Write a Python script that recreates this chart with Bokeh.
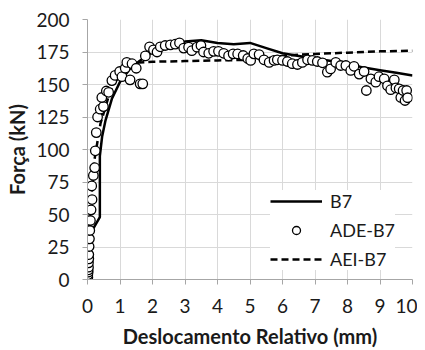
from bokeh.plotting import figure
from bokeh.models import Legend, LegendItem, FixedTicker, Range1d
from bokeh.embed import file_html
from bokeh.resources import INLINE

# B7 (solid line)
b7_x = [0, 0.05, 0.15, 0.38, 0.38, 0.45, 0.55, 0.75, 1.0, 1.3, 1.6, 2.0, 2.5, 3.0, 3.5, 4.0, 4.5, 5.0, 5.5, 6.0, 6.5, 7.0, 7.5, 8.0, 8.5, 9.0, 9.5, 10.0]
b7_y = [0, 20, 38, 48, 95, 110, 122, 139, 152, 162, 168, 175, 180, 183, 184, 182, 181, 182, 178, 174, 172, 170, 168, 166, 163, 161, 159, 157]

# AEI-B7 (dashed line)
aei_x = [0, 0.05, 0.1, 0.2, 0.4, 0.7, 1.0, 1.3, 1.6, 2.0, 3.0, 4.0, 5.0, 5.5, 6.0, 6.5, 7.0, 8.0, 9.0, 10.0]
aei_y = [0, 30, 55, 90, 120, 145, 158, 164, 167, 167.5, 168, 168.5, 169, 170, 172, 173, 173.5, 174.5, 175.5, 176]

# ADE-B7 (markers)
ade_x = [0.00, 0.01, 0.01, 0.02, 0.02, 0.03, 0.03, 0.04, 0.04, 0.05, 0.06, 0.07, 0.09, 0.11, 0.13, 0.14,
         0.18, 0.22, 0.24, 0.27, 0.31, 0.39, 0.49, 0.44, 0.58, 0.65, 0.75, 0.85, 0.99, 1.06, 1.16, 1.21,
         1.31, 1.37, 1.5, 1.62, 1.7, 1.78, 1.91, 2.03, 2.14, 2.24, 2.39, 2.55, 2.7, 2.83, 2.96, 3.11,
         3.21, 3.37, 3.49, 3.57, 3.73, 3.88, 4.03, 4.19, 4.34, 4.48, 4.62, 4.79, 4.93, 5.02, 5.12, 5.28,
         5.43, 5.59, 5.74, 5.84, 6.0, 6.15, 6.3, 6.46, 6.61, 6.77, 6.92, 7.07, 7.23, 7.38, 7.48, 7.64,
         7.79, 7.95, 8.1, 8.2, 8.36, 8.51, 8.58, 8.72, 8.87, 8.97, 9.13, 9.23, 9.33, 9.44, 9.49, 9.59,
         9.64, 9.71, 9.77, 9.82, 9.85]
ade_y = [0, 1.8, 3.6, 5.6, 7.4, 9.5, 12.8, 15.9, 19.2, 25.4, 31.3, 37.7, 45.4, 53.6, 72, 61.5,
         80, 86, 99, 113, 125, 131, 133, 140, 145, 144, 153, 157, 160, 156, 162.5, 167,
         153.6, 166, 162.5, 150.5, 150.5, 172, 179, 176.7, 175, 179, 180, 180.5, 181, 182, 178, 178.7,
         176, 178.7, 180, 175, 174, 175.5, 175.5, 174, 172, 173.6, 173.5, 172.3, 170, 168.5, 173.6, 173,
         169, 167, 168.5, 169, 168.5, 167.7, 166, 165.4, 167, 169, 168.5, 167.7, 166.7, 159.5, 162, 167,
         164.6, 164.6, 160.8, 164, 158, 160, 145.4, 154.4, 151.8, 156, 154.4, 149, 146, 153.6, 147.4, 146.7,
         140, 145.4, 137.7, 145.4, 139.8]

x_ticks = [0, 1, 2, 3, 4, 5, 6, 7, 8, 9, 10]
y_ticks = [0, 25, 50, 75, 100, 125, 150, 175, 200]

FONT = "Lato"
TXT = "#1a1a1a"

p = figure(width=417, height=350, output_backend="svg", toolbar_location=None,
           x_range=Range1d(0, 10), y_range=Range1d(0, 200),
           min_border_left=87, min_border_right=5, min_border_top=19, min_border_bottom=71)
p.outline_line_color = None
p.background_fill_color = "white"

for ax in (p.xaxis[0], p.yaxis[0]):
    ax.axis_line_color = "#a6a6a6"
    ax.axis_line_width = 1
    ax.major_tick_line_color = "#a6a6a6"
    ax.major_tick_out = 5
    ax.major_tick_in = 0
    ax.minor_tick_line_color = None
    ax.major_label_text_font = FONT
    ax.major_label_text_font_size = "19px"
    ax.major_label_text_color = TXT
    ax.axis_label_text_font = FONT
    ax.axis_label_text_font_style = "bold"
    ax.axis_label_text_font_size = "20px"
    ax.axis_label_text_color = TXT

p.xaxis.ticker = FixedTicker(ticks=x_ticks)
p.yaxis.ticker = FixedTicker(ticks=y_ticks)
p.xaxis.axis_label = "Deslocamento Relativo (mm)"
p.yaxis.axis_label = "Força (kN)"
p.xaxis.major_label_standoff = 14
p.yaxis.major_label_standoff = 13
p.xaxis.axis_label_standoff = 8
p.yaxis.axis_label_standoff = 4

p.xgrid.ticker = FixedTicker(ticks=x_ticks)
p.ygrid.ticker = FixedTicker(ticks=y_ticks)
p.xgrid.grid_line_color = "#d9d9d9"
p.ygrid.grid_line_color = "#d9d9d9"

r_b7 = p.line(b7_x, b7_y, line_color="black", line_width=2.5)
r_aei = p.line(aei_x, aei_y, line_color="black", line_width=2.5, line_dash="7 4")
p.scatter(ade_x, ade_y, marker="circle", size=9.5, fill_color="white",
          line_color="black", line_width=1.3)
# legend-only marker, placed outside the visible range
r_ade_leg = p.scatter(x=[-100], y=[-100], marker="circle", size=6, fill_color="white",
                      line_color="black", line_width=1.3)

legend = Legend(items=[LegendItem(label="B7", renderers=[r_b7]),
                       LegendItem(label="ADE-B7", renderers=[r_ade_leg]),
                       LegendItem(label="AEI-B7", renderers=[r_aei])],
                location=(183, 9))
legend.glyph_width = 52
legend.glyph_height = 20
legend.label_height = 20
legend.spacing = 7
legend.padding = 5
legend.margin = 0
legend.label_standoff = 8
legend.border_line_color = None
legend.background_fill_color = "white"
legend.background_fill_alpha = 1.0
legend.label_text_font = FONT
legend.label_text_font_size = "18px"
legend.label_text_color = TXT
p.add_layout(legend, "center")

open("out.html", "w").write(file_html(p, INLINE))
